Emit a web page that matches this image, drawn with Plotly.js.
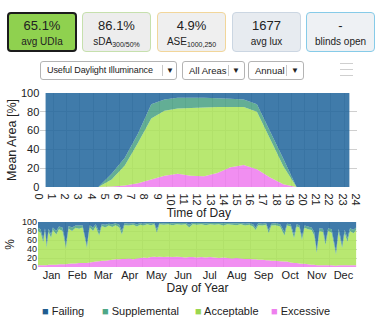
<!DOCTYPE html>
<html>
<head>
<meta charset="utf-8">
<script src="https://cdn.plot.ly/plotly-3.0.1.min.js"></script>
<style>
  html, body { margin:0; padding:0; background:#fff; }
  body { width:378px; height:324px; position:relative; overflow:hidden; font-family:"Liberation Sans", Arial, sans-serif; color:#222; }
  #chart { position:absolute; left:0; top:0; width:378px; height:324px; }
  .card { position:absolute; top:12px; height:40px; box-sizing:border-box; border-radius:4px; text-align:center; z-index:5; }
  .card .v { position:absolute; left:0; right:0; top:5px; font-size:13px; line-height:15px; }
  .card .l { position:absolute; left:0; right:0; top:23px; font-size:10px; line-height:12px; }
  .card sub { font-size:7px; vertical-align:-2px; line-height:0; }
  .dd { position:absolute; top:61px; height:19px; box-sizing:border-box; border:1px solid #b4b4b4; border-radius:3px; background:#fff; font-size:9.5px; line-height:17px; z-index:5; }
  .dd .t { position:absolute; left:6px; top:0; white-space:nowrap; }
  .dd .s { position:absolute; top:3px; height:11px; width:1px; background:#c8c8c8; }
  .dd .a { position:absolute; top:0; font-size:8px; }
  .ham { position:absolute; left:340px; width:13px; height:1px; background:#cfcfcf; z-index:5; }
</style>
</head>
<body>
<div class="card" style="left:7px;width:70px;background:#8fd14f;border:2px solid #1c1c1c;"><div class="v" style="top:4px">65.1%</div><div class="l" style="top:22px">avg UDIa</div></div>
<div class="card" style="left:82px;width:69px;background:#ededed;border:1px solid #c6e0ad;"><div class="v">86.1%</div><div class="l">sDA<sub>300/50%</sub></div></div>
<div class="card" style="left:157px;width:69px;background:#efefef;border:1px solid #f2d69a;"><div class="v">4.9%</div><div class="l">ASE<sub>1000,250</sub></div></div>
<div class="card" style="left:232px;width:69px;background:#e7ebf0;border:1px solid #cbd6e2;"><div class="v">1677</div><div class="l">avg lux</div></div>
<div class="card" style="left:306px;width:69px;background:#eef1f4;border:1px solid #86cbe8;"><div class="v">-</div><div class="l">blinds open</div></div>

<div class="dd" style="left:40px;width:137px;"><span class="t" style="font-size:9px;letter-spacing:-0.1px">Useful Daylight Illuminance</span><span class="s" style="left:121px"></span><span class="a" style="left:125px">▼</span></div>
<div class="dd" style="left:182px;width:63px;"><span class="t">All Areas</span><span class="s" style="left:45px"></span><span class="a" style="left:49px">▼</span></div>
<div class="dd" style="left:248px;width:56px;"><span class="t">Annual</span><span class="s" style="left:37px"></span><span class="a" style="left:42px">▼</span></div>
<div class="ham" style="top:63px"></div>
<div class="ham" style="top:69px"></div>
<div class="ham" style="top:75px"></div>

<div id="chart"></div>
<script>
// ---- Mean area by time of day (%) ----
const hours = [0.4,1.4,2.4,3.4,4.4,5.4,6.4,7.4,8.4,9.4,10.4,11.4,12.4,13.4,14.4,15.4,16.4,17.4,18.4,19.4,20.4,21.4,22.4,23.4];
const excessiveHourly    = [0,0,0,0,0,0.5,1.5,4,8,12,14,12,11.5,15,21,23.5,19,10,3,0,0,0,0,0];
const acceptableHourly   = [0,0,0,0,0,7.5,21.5,43,65,69,69.5,72,73,70,64,61.5,61,41,19,0,0,0,0,0];
const supplementalHourly = [0,0,0,0,0,6,8,10,15,12,11.5,11,10.5,9.5,9,8,8,8,8,0,0,0,0,0];
const failingHourly      = [100,100,100,100,100,86,69,43,12,7,5,5,5,5.5,6,7,12,41,70,100,100,100,100,100];

// ---- Share by day of year (%) ----
const days = [1,4,7,9,11,13,16,18,22,25,29,33,36,40,44,48,52,57,60,64,67,71,74,78,82,86,90,94,97,100,105,110,114,118,122,126,130,134,137,140,145,150,155,160,165,170,174,178,183,188,193,198,203,208,213,218,223,228,233,238,243,247,250,253,258,262,265,268,273,278,283,286,290,294,297,300,303,306,310,314,317,320,323,327,330,333,337,342,345,349,352,355,358,362,365];
const excessiveDaily    = [4,4,4,4,4,5,5,5,5,6,6,6,7,8,8,9,9,9,10,11,12,13,14,14,15,16,17,17,18,18,19,17,19,20,21,20,22,23,22,23,22,23,22,23,22,21,22,22,21,22,21,22,21,20,21,20,19,20,19,18,18,17,17,16,16,15,15,14,14,13,12,12,10,9,9,8,7,7,6,5,5,4,4,4,4,4,4,3,4,4,4,4,4,4,4];
const acceptableDaily   = [76,72,51,76,38,73,60,77,67,78,74,36,78,72,79,76,79,33,78,69,78,57,77,74,77,73,76,71,54,75,73,77,71,74,71,75,71,72,54,72,72,72,71,72,72,74,66,73,73,73,72,73,73,75,71,75,75,73,76,74,76,73,65,77,76,79,60,78,79,77,58,80,80,55,81,80,53,80,78,77,65,27,76,74,45,76,72,24,74,38,71,52,76,71,78];
const supplementalDaily = [7,8,7,6,8,7,7,6,8,6,8,8,6,8,5,7,5,6,5,8,5,8,4,6,4,6,4,6,8,4,4,3,5,3,4,3,4,3,8,3,3,3,4,3,4,3,6,3,4,3,4,3,4,3,5,3,3,4,3,4,3,5,6,4,4,3,7,4,4,5,8,4,5,8,5,5,8,5,6,6,8,7,6,7,7,6,8,7,7,8,8,8,6,8,6];
const failingDaily      = [13,16,38,14,50,15,28,12,20,10,12,50,9,12,8,8,7,52,7,12,5,22,5,6,4,5,3,6,20,3,4,3,5,3,4,2,3,2,16,2,3,2,3,2,2,2,6,2,2,2,3,2,2,2,3,2,3,3,2,4,3,5,12,3,4,3,18,4,3,5,22,4,5,28,5,7,32,8,10,12,22,62,14,15,44,14,16,66,15,50,17,36,14,17,12];

const categories = ['Failing','Supplemental','Acceptable','Excessive'];
const fillColors = {
  Failing: 'rgba(30,100,155,0.85)',
  Supplemental: 'rgba(72,160,130,0.85)',
  Acceptable: 'rgba(172,228,88,0.85)',
  Excessive: 'rgba(238,122,238,0.85)'
};
const legendColors = { Failing:'#1f5c8f', Supplemental:'#4ea786', Acceptable:'#9ad64f', Excessive:'#ee80ee' };

const year = 2023;
const dayDates = days.map(d => new Date(Date.UTC(year, 0, d)).toISOString().slice(0, 10));

const hourly = { Excessive: excessiveHourly, Acceptable: acceptableHourly, Supplemental: supplementalHourly, Failing: failingHourly };
const daily  = { Excessive: excessiveDaily,  Acceptable: acceptableDaily,  Supplemental: supplementalDaily,  Failing: failingDaily };
const stackOrder = ['Excessive','Acceptable','Supplemental','Failing'];

const traces = [];
stackOrder.forEach(name => {
  traces.push({ type:'scatter', x: hours, y: hourly[name], name, stackgroup:'hour', mode:'none',
    fillcolor: fillColors[name], showlegend:false, xaxis:'x', yaxis:'y', hoverinfo:'skip' });
});
stackOrder.forEach(name => {
  traces.push({ type:'scatter', x: dayDates, y: daily[name], name, stackgroup:'day', mode:'none',
    fillcolor: fillColors[name], showlegend:false, xaxis:'x2', yaxis:'y2', hoverinfo:'skip' });
});

const font = { family:'"Liberation Sans", Arial, sans-serif', color:'#222' };
const gridcolor = '#cfcfcf';

const legendX = [40, 100, 193, 269];
const annotations = categories.map((c, i) => ({
  xref:'paper', yref:'paper', x: legendX[i]/378, y: 1 - 311/324, xanchor:'left', yanchor:'middle',
  showarrow:false, text: '<span style="color:' + legendColors[c] + '">■</span> ' + c,
  font: { family: font.family, size: 11, color:'#222' }
}));

const layout = {
  width:378, height:324,
  margin:{l:0,r:0,t:0,b:0},
  paper_bgcolor:'#fff', plot_bgcolor:'#fff',
  font: font,
  showlegend:false,
  xaxis: { domain:[40.3/378, 357.3/378], range:[0,24], tick0:0, dtick:1, showgrid:true, gridcolor, zeroline:false,
    ticks:'', tickfont:{size:11, family:font.family, color:'#222'}, automargin:false, fixedrange:true,
    title:{ text:'Time of Day', font:{size:12, family:font.family, color:'#222'}, standoff:0 } },
  yaxis: { domain:[1-187/324, 1-93/324], range:[0,100], dtick:20, showgrid:true, gridcolor, zeroline:false,
    ticks:'', tickfont:{size:11, family:font.family, color:'#222'}, automargin:false, fixedrange:true,
    title:{ text:'Mean Area [%]', font:{size:12.5, family:font.family, color:'#222'}, standoff:1 } },
  xaxis2: { anchor:'y2', type:'date', domain:[38/378, 357/378], range:[year+'-01-01', (year+1)+'-01-01'],
    tick0: year+'-01-01', dtick:'M1', tickformat:'%b', ticklabelmode:'period', showgrid:true, gridcolor, zeroline:false,
    ticks:'', tickfont:{size:11, family:font.family, color:'#222'}, automargin:false, fixedrange:true,
    title:{ text:'Day of Year', font:{size:12, family:font.family, color:'#222'}, standoff:0 } },
  yaxis2: { anchor:'x2', domain:[1-267/324, 1-222/324], range:[0,100], dtick:20, showgrid:true, gridcolor, zeroline:false,
    ticks:'', tickfont:{size:9, family:font.family, color:'#222'}, automargin:false, fixedrange:true,
    title:{ text:'%', font:{size:12, family:font.family, color:'#222'}, standoff:4 } },
  annotations
};

Plotly.newPlot('chart', traces, layout, { displayModeBar:false, staticPlot:true, responsive:false });
</script>
</body>
</html>
